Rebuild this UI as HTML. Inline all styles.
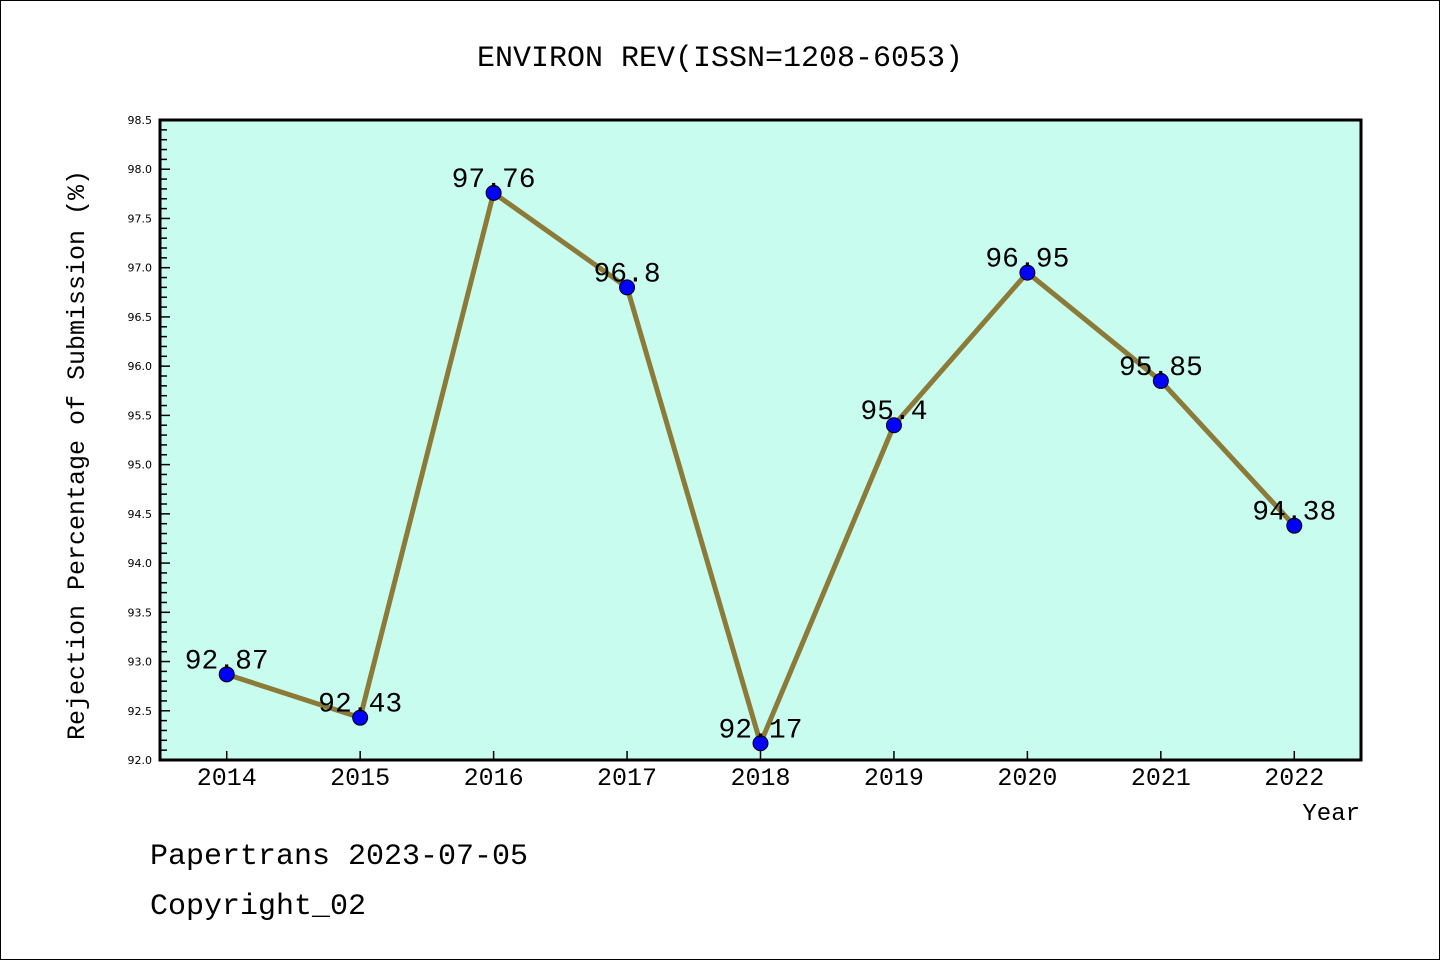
<!DOCTYPE html>
<html><head><meta charset="utf-8"><style>
body{margin:0;background:#fff}
svg{display:block}
text{font-family:"Liberation Mono","Noto Sans CJK SC",monospace}
</style></head><body>
<svg id="chart" width="1440" height="960" xmlns="http://www.w3.org/2000/svg">
<rect x="0.5" y="0.5" width="1439" height="959" fill="#fff" stroke="#000"/>
<text x="720" y="66" font-size="30" text-anchor="middle">ENVIRON REV(ISSN=1208-6053)</text>
<rect x="160" y="120" width="1201" height="640" fill="#c8fcee"/>
<g id="ticks"></g>
<g id="series"></g>
<rect x="160" y="120" width="1201" height="640" fill="none" stroke="#000" stroke-width="3"/>
<text transform="translate(84,455) rotate(-90)" font-size="25" text-anchor="middle">Rejection Percentage of Submission (%)</text>
<text x="1360" y="820" font-size="24" text-anchor="end">Year</text>
<text x="150" y="864" font-size="30">Papertrans 2023-07-05</text>
<text x="150" y="914" font-size="30">Copyright_02</text>
</svg>
<script>
const years=[2014,2015,2016,2017,2018,2019,2020,2021,2022];
const values=[92.87,92.43,97.76,96.8,92.17,95.4,96.95,95.85,94.38];
const yTicks=[92.0,92.5,93.0,93.5,94.0,94.5,95.0,95.5,96.0,96.5,97.0,97.5,98.0,98.5];
const NS="http://www.w3.org/2000/svg";
const xs=v=>160+(v-2013.5)*1201/9;
const ys=v=>760-(v-92)*640/6.5;
function mk(t,a,p){const e=document.createElementNS(NS,t);for(const k in a)e.setAttribute(k,a[k]);p.appendChild(e);return e;}
const tg=document.getElementById('ticks');
for(let i=0;i<=65;i++){const v=92+i*0.1;const y=ys(v);const major=i%5===0;
 const l=mk('line',{x1:160,x2:160+(major?10:7),y1:y,y2:y,stroke:'#000','stroke-width':1.5},tg);
 
 }
yTicks.forEach(v=>{const t=mk('text',{x:152,y:ys(v)+4,'font-size':11,'text-anchor':'end',style:'font-family:"DejaVu Sans",sans-serif'},tg);t.textContent=v.toFixed(1);
 
 });
years.forEach(yr=>{const x=xs(yr);
 const l=mk('line',{x1:x,x2:x,y1:760,y2:751,stroke:'#000','stroke-width':1.5},tg);
 
 
 const t=mk('text',{x:x,y:785,'font-size':25,'text-anchor':'middle'},tg);t.textContent=yr;
 
 });
const sg=document.getElementById('series');
const pts=years.map((yr,i)=>xs(yr)+','+ys(values[i])).join(' ');
const pl=mk('polyline',{points:pts,fill:'none',stroke:'#8c7a38','stroke-width':5,'stroke-linejoin':'round'},sg);


years.forEach((yr,i)=>{const c=mk('circle',{cx:xs(yr),cy:ys(values[i]),r:7.5,fill:'#0000ff',stroke:'#000','stroke-width':1},sg);
 
 });
years.forEach((yr,i)=>{const t=mk('text',{x:xs(yr),y:ys(values[i])-6,'font-size':28,'text-anchor':'middle'},sg);t.textContent=String(values[i]);
 
 });
</script>
</body></html>
